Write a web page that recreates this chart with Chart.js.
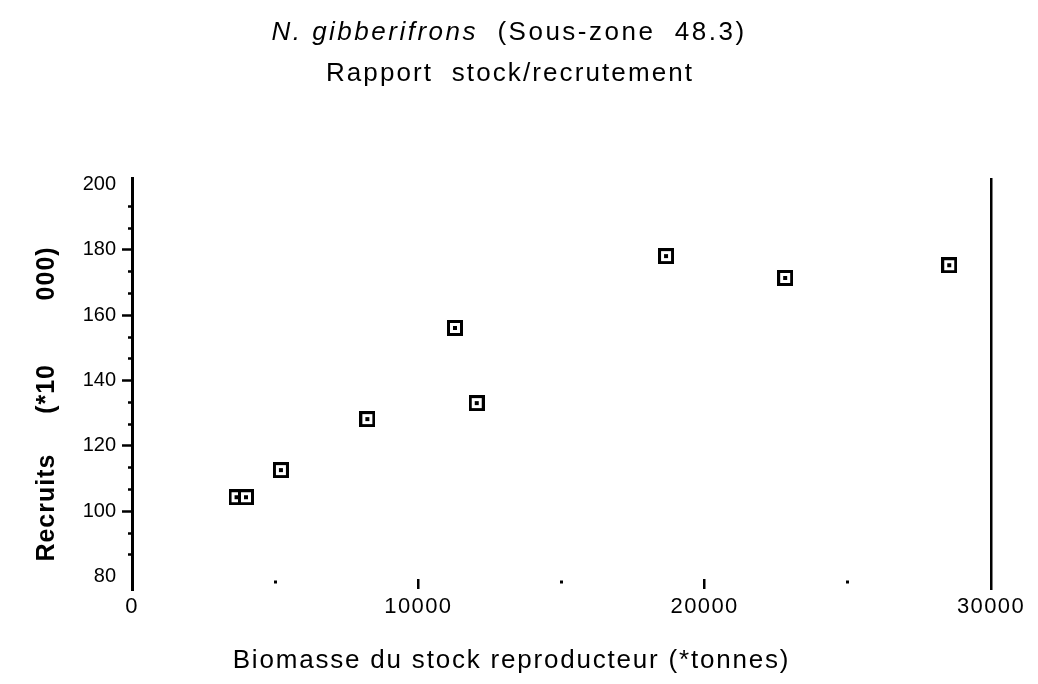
<!DOCTYPE html>
<html>
<head>
<meta charset="utf-8">
<script src="https://cdn.jsdelivr.net/npm/chart.js@4.4.0/dist/chart.umd.min.js"></script>
<style>
  html, body { margin: 0; padding: 0; background: #ffffff; }
  #wrap { position: relative; width: 1038px; height: 684px; }
</style>
</head>
<body>
<div id="wrap"><canvas id="c"></canvas></div>
<script>
// ---------- text ----------
const titleItalic = 'N. gibberifrons';
const titleRest = '  (Sous-zone  48.3)';
const subtitleText = 'Rapport  stock/recrutement';
const xAxisTitle = 'Biomasse du stock reproducteur (*tonnes)';
const yAxisTitle = 'Recruits     (*10        000)';

// ---------- data ----------
const biomass  = [3650, 3980, 5200, 8220, 11280, 12040, 18650, 22810, 28540];
const recruits = [104.3, 104.3, 112.6, 128.2, 156.1, 133.1, 178.1, 171.4, 175.3];

// ---------- ticks ----------
const yMajorTicks = [80, 100, 120, 140, 160, 180, 200];
const yMinorPerMajor = 3;
const xTickValues = [0, 5000, 10000, 15000, 20000, 25000, 30000];
const xLabeledTicks = [0, 10000, 20000, 30000];
const xLongTicks = [10000, 20000];
const xFrameTick = 30000;

const FONT = '"Liberation Sans", Arial, Helvetica, sans-serif';

function makeMarker() {
  const c = document.createElement('canvas');
  c.width = 16; c.height = 16;
  const g = c.getContext('2d');
  g.fillStyle = '#000'; g.fillRect(0, 0, 16, 16);
  g.fillStyle = '#fff'; g.fillRect(3, 3, 10, 10);
  g.fillStyle = '#000'; g.fillRect(6, 6, 4, 4);
  return c;
}
const marker = makeMarker();

// y ticks (major + minor)
const yTickList = [];
for (let i = 0; i < yMajorTicks.length; i++) {
  yTickList.push(yMajorTicks[i]);
  if (i < yMajorTicks.length - 1) {
    const step = (yMajorTicks[i + 1] - yMajorTicks[i]) / yMinorPerMajor;
    for (let k = 1; k < yMinorPerMajor; k++) yTickList.push(yMajorTicks[i] + k * step);
  }
}
const isMajorY = v => yMajorTicks.some(m => Math.abs(m - v) < 1e-6);

// letter spacing / small offsets for scale texts
const SCALE_TEXT = {
  x: { labels: '1.4px', title: '1.8px', titleShift: [-50, 0] },
  y: { labels: '0px', title: '1px', titleShift: [0, 20] }
};
const spacingPlugin = {
  id: 'spacing',
  beforeDraw(chart) {
    for (const id of Object.keys(SCALE_TEXT)) {
      const s = chart.scales[id];
      if (!s || s.__spaced) continue;
      s.__spaced = true;
      const cfg = SCALE_TEXT[id];
      const wrap = (name, ls, shift) => {
        const orig = s[name];
        s[name] = function (...args) {
          const c = this.ctx;
          c.save();
          c.letterSpacing = ls;
          if (shift) c.translate(shift[0], shift[1]);
          orig.apply(this, args);
          c.restore();
        };
      };
      wrap('drawLabels', cfg.labels, null);
      wrap('drawTitle', cfg.title, cfg.titleShift);
    }
  }
};

const headerPlugin = {
  id: 'header',
  afterDraw(chart) {
    const ctx = chart.ctx;
    ctx.save();
    ctx.fillStyle = '#000';
    ctx.textBaseline = 'middle';
    ctx.textAlign = 'left';
    ctx.letterSpacing = '2.5px';
    ctx.font = 'italic 26px ' + FONT;
    const w1 = ctx.measureText(titleItalic).width;
    ctx.font = '26px ' + FONT;
    const w2 = ctx.measureText(titleRest).width;
    const x0 = 509 - (w1 + w2) / 2;
    ctx.font = 'italic 26px ' + FONT;
    ctx.fillText(titleItalic, x0, 33);
    ctx.font = '26px ' + FONT;
    ctx.fillText(titleRest, x0 + w1, 33);
    ctx.letterSpacing = '2.1px';
    const w3 = ctx.measureText(subtitleText).width;
    ctx.fillText(subtitleText, 510 - w3 / 2, 74);
    ctx.restore();
  }
};

new Chart(document.getElementById('c'), {
  type: 'scatter',
  data: {
    datasets: [{
      data: biomass.map((b, i) => ({ x: b, y: recruits[i] })),
      pointStyle: marker,
      pointRadius: 8,
      pointHoverRadius: 8,
      showLine: false
    }]
  },
  options: {
    responsive: true,
    maintainAspectRatio: false,
    animation: false,
    events: [],
    layout: { padding: { left: 0, right: 47, top: 178, bottom: 0 } },
    plugins: {
      legend: { display: false },
      tooltip: { enabled: false },
      title: { display: false }
    },
    scales: {
      x: {
        type: 'linear',
        min: 0,
        max: 30000,
        afterBuildTicks: s => { s.ticks = xTickValues.map(v => ({ value: v })); },
        afterFit: s => { s.height = 94; },
        ticks: {
          autoSkip: false,
          maxRotation: 0,
          padding: 4,
          color: '#000',
          font: { family: FONT, size: 22 },
          callback: v => (xLabeledTicks.includes(v) ? String(v) : '')
        },
        grid: {
          drawOnChartArea: true,
          drawTicks: false,
          color: ctx => (ctx.tick && ctx.tick.value === 0 ? 'rgba(0,0,0,0)' : '#000'),
          lineWidth: ctx => {
            if (!ctx.tick) return 1;
            const v = ctx.tick.value;
            if (v === xFrameTick) return 2.5;
            if (xLongTicks.includes(v)) return 2.5;
            return 3;
          }
        },
        border: {
          display: false,
          dash: ctx => {
            if (!ctx.tick) return [];
            const v = ctx.tick.value;
            const ca = ctx.chart.chartArea;
            const H = ca ? ca.bottom - ca.top : 412;
            if (v === xFrameTick) return [];
            if (xLongTicks.includes(v)) return [0, H - 11, 10, 3000];
            return [0, H - 9.5, 3, 3000];
          }
        },
        title: {
          display: true,
          text: xAxisTitle,
          color: '#000',
          font: { family: FONT, size: 26 },
          padding: { top: 0, bottom: 8 }
        }
      },
      y: {
        type: 'linear',
        min: 75.9,
        max: 202,
        afterBuildTicks: s => { s.ticks = yTickList.map(v => ({ value: v })); },
        afterFit: s => { s.width = 132; },
        ticks: {
          autoSkip: false,
          padding: 6,
          color: '#000',
          font: { family: FONT, size: 20 },
          callback: v => (isMajorY(v) ? String(Math.round(v)) : '')
        },
        grid: {
          drawOnChartArea: false,
          drawTicks: true,
          tickLength: 10,
          tickWidth: 2.5,
          tickColor: ctx => {
            if (!ctx.tick) return '#000';
            const v = ctx.tick.value;
            return (Math.abs(v - 80) < 1e-6 || Math.abs(v - 200) < 1e-6) ? 'rgba(0,0,0,0)' : '#000';
          },
          tickBorderDash: ctx => (ctx.tick && isMajorY(ctx.tick.value) ? [] : [0, 6, 4, 100])
        },
        border: { display: true, color: '#000', width: 3 },
        title: {
          display: true,
          text: yAxisTitle,
          color: '#000',
          font: { family: FONT, size: 25, weight: 'bold' },
          padding: { top: 32, bottom: 0 }
        }
      }
    }
  },
  plugins: [spacingPlugin, headerPlugin]
});
</script>
</body>
</html>
